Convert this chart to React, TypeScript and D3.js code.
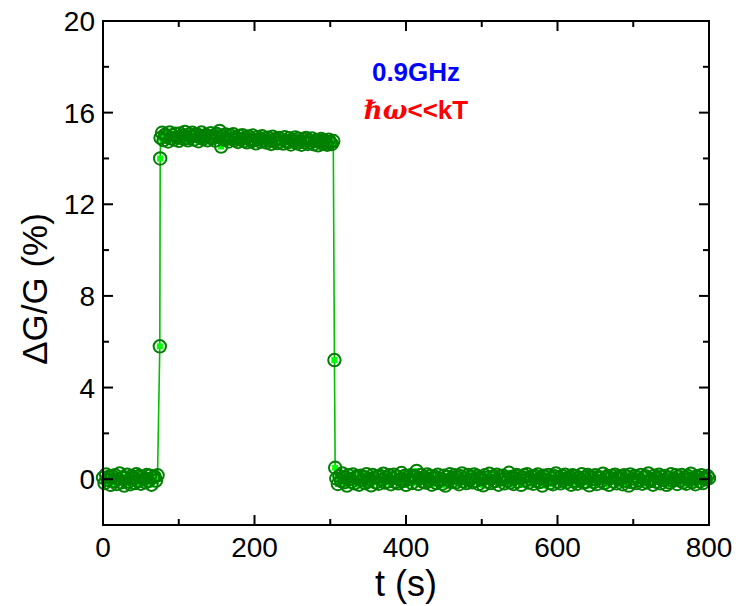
import React from "react";
import * as d3 from "d3";

// ---- data ----
const baseline1Start = 0;
const baseline1Step = 2;
const baseline1Values = [
  0.07, -0.17, 0.21, -0.03, 0.11, -0.25, 0.14, -0.08, 0.17, -0.21, 0.0, 0.25, -0.14,
  0.08, -0.28, 0.06, 0.2, -0.11, -0.22, 0.13, 0.03, -0.17, 0.22, -0.07, 0.14, -0.2,
  0.1, 0.0, -0.14, 0.18, -0.08, 0.15, -0.24, 0.07, 0.11, -0.06, 0.17,
];
const riseTimes = [75, 75.5];
const riseValues = [5.8, 14.0];
const plateauStart = 76;
const plateauStep = 2;
const plateauValues = [
  14.9, 15.12, 14.8, 15.04, 14.95, 14.74, 15.14, 14.88, 15.01, 14.83,
  15.08, 14.92, 14.77, 15.09, 14.99, 14.86, 15.16, 14.89, 14.79, 15.05,
  14.95, 15.12, 14.82, 15.0, 15.06, 14.75, 14.93, 15.14, 14.85, 14.97,
  15.03, 14.79, 14.92, 15.1, 14.88, 14.99, 14.78, 15.07, 14.95, 15.2,
  14.52, 14.96, 14.82, 15.05, 14.88, 14.74, 15.0, 14.85, 15.06, 14.8,
  14.92, 14.72, 14.98, 14.83, 15.02, 14.76, 14.9, 14.7, 14.96, 14.84,
  14.75, 15.0, 14.8, 14.66, 14.93, 14.83, 14.73, 14.97, 14.79, 14.87,
  14.69, 14.91, 14.78, 14.63, 14.95, 14.77, 14.84, 14.67, 14.9, 14.73,
  14.82, 14.65, 14.93, 14.76, 14.7, 14.88, 14.61, 14.81, 14.75, 14.92,
  14.66, 14.86, 14.74, 14.6, 14.84, 14.72, 14.9, 14.63, 14.79, 14.7,
  14.87, 14.62, 14.76, 14.81, 14.57, 14.74, 14.85, 14.65, 14.79, 14.68,
  14.6, 14.82, 14.7, 14.63, 14.76,
];
const fallTimes = [305.5, 306.5];
const fallValues = [5.2, 0.5];
const baseline2Start = 308;
const baseline2Step = 2;
const baseline2Values = [
  0.03, -0.21, 0.14, -0.07, 0.25, -0.14, 0.08, -0.28, 0.17, 0.0,
  -0.11, 0.21, -0.18, 0.06, 0.13, -0.24, 0.15, -0.04, 0.1, -0.17,
  0.22, -0.08, 0.01, -0.27, 0.18, 0.07, -0.14, 0.11, -0.2, 0.14,
  -0.03, 0.24, -0.15, 0.08, -0.1, 0.17, -0.22, 0.04, 0.2, -0.13,
  0.11, -0.18, 0.0, 0.27, -0.07, 0.14, -0.25, 0.1, -0.01, 0.17,
  -0.17, 0.07, 0.13, 0.36, -0.21, 0.03, 0.18, -0.11, 0.08, -0.15,
  0.21, -0.06, 0.14, -0.24, 0.04, 0.11, -0.17, 0.2, -0.08, 0.01,
  -0.2, 0.15, -0.28, 0.1, -0.04, 0.22, -0.13, 0.07, 0.17, -0.14,
  0.06, -0.22, 0.13, 0.25, -0.1, 0.03, -0.17, 0.18, -0.03, 0.1,
  -0.14, 0.21, -0.07, 0.14, -0.21, 0.08, 0.0, -0.27, 0.17, 0.06,
  -0.11, 0.24, -0.17, 0.04, 0.13, -0.08, 0.2, -0.24, 0.11, -0.01,
  0.15, -0.18, 0.07, -0.06, 0.28, -0.14, 0.1, -0.21, 0.03, 0.18,
  -0.1, 0.13, -0.25, 0.08, 0.17, -0.04, 0.22, -0.15, 0.0, 0.11,
  -0.2, 0.14, -0.08, 0.21, -0.13, 0.06, -0.28, 0.15, 0.1, -0.03,
  0.18, -0.17, 0.04, -0.22, 0.13, 0.25, -0.11, 0.07, -0.18, 0.14,
  -0.06, 0.2, -0.14, 0.01, 0.1, -0.24, 0.17, -0.07, 0.13, -0.2,
  0.08, -0.03, 0.22, -0.15, 0.06, -0.11, 0.18, -0.27, 0.11, 0.0,
  -0.13, 0.17, -0.21, 0.1, 0.03, -0.08, 0.24, -0.17, 0.07, 0.14,
  -0.25, 0.04, 0.15, -0.1, 0.2, -0.18, 0.08, -0.01, 0.13, -0.22,
  0.17, -0.07, 0.11, -0.28, 0.21, -0.13, 0.03, 0.14, -0.17, 0.08,
  -0.04, 0.18, -0.2, 0.07, 0.13, -0.14, 0.25, -0.08, 0.0, -0.24,
  0.15, -0.11, 0.06, 0.2, -0.18, 0.1, -0.03, 0.14, -0.25, 0.07,
  -0.15, 0.22, -0.08, 0.03, 0.17, -0.21, 0.11, -0.06, 0.18, -0.14,
  0.08, -0.2, 0.14, -0.01, 0.24, -0.13, 0.04, -0.22, 0.13, 0.06,
  -0.1, 0.17, -0.17, 0.07, 0.0, 0.14, 0.04,
];
const xMajorTicks = [0, 200, 400, 600, 800];
const xMinorTicks = [100, 300, 500, 700];
const yMajorTicks = [0, 4, 8, 12, 16, 20];
const yMinorTicks = [2, 6, 10, 14, 18];
const xTitle = "t (s)";
const yTitle = "\u0394G/G (%)";
const label1 = "0.9GHz";
const label2a = "\u210F\u03C9";
const label2b = "<<kT";

type Pt = { t: number; v: number };
const seg = (start: number, step: number, vals: number[]): Pt[] =>
  vals.map((v, i) => ({ t: start + i * step, v }));
const data: Pt[] = [
  ...seg(baseline1Start, baseline1Step, baseline1Values),
  ...riseTimes.map((t, i) => ({ t, v: riseValues[i] })),
  ...seg(plateauStart, plateauStep, plateauValues),
  ...fallTimes.map((t, i) => ({ t, v: fallValues[i] })),
  ...seg(baseline2Start, baseline2Step, baseline2Values),
];

const W = 736;
const H = 606;
const L = 103, R = 709, T = 21, B = 525;
const font = "'Liberation Sans', Arial, sans-serif";

export default function App() {
  const x = d3.scaleLinear().domain([0, 800]).range([L, R]);
  const y = d3.scaleLinear().domain([-2, 20]).range([B, T]);
  const line = d3.line<Pt>().x((d) => x(d.t)).y((d) => y(d.v));
  const major = 10, minor = 6;
  return (
    <svg width={W} height={H} style={{ position: "absolute", left: 0, top: 0, background: "#fff" }}>
      <rect x={0} y={0} width={W} height={H} fill="#fff" />
      <path d={line(data) || ""} fill="none" stroke="#00c000" strokeWidth={1.6} />
      {data.map((d, i) => (
        <rect key={"s" + i} x={x(d.t) - 3} y={y(d.v) - 3} width={6} height={6} fill="#00ff00" />
      ))}
      {data.map((d, i) => (
        <circle key={"c" + i} cx={x(d.t)} cy={y(d.v)} r={6.2} fill="none" stroke="#008000" strokeWidth={2} />
      ))}
      {/* frame */}
      <rect x={L} y={T} width={R - L} height={B - T} fill="none" stroke="#000" strokeWidth={2} />
      {xMajorTicks.map((t) => (
        <g key={"xm" + t}>
          <line x1={x(t)} x2={x(t)} y1={B} y2={B - major} stroke="#000" strokeWidth={2} />
          <line x1={x(t)} x2={x(t)} y1={T} y2={T + major} stroke="#000" strokeWidth={2} />
          <text x={x(t)} y={557} textAnchor="middle" fontFamily={font} fontSize={28}>{t}</text>
        </g>
      ))}
      {xMinorTicks.map((t) => (
        <g key={"xn" + t}>
          <line x1={x(t)} x2={x(t)} y1={B} y2={B - minor} stroke="#000" strokeWidth={2} />
          <line x1={x(t)} x2={x(t)} y1={T} y2={T + minor} stroke="#000" strokeWidth={2} />
        </g>
      ))}
      {yMajorTicks.map((v) => (
        <g key={"ym" + v}>
          <line x1={L} x2={L + major} y1={y(v)} y2={y(v)} stroke="#000" strokeWidth={2} />
          <line x1={R} x2={R - major} y1={y(v)} y2={y(v)} stroke="#000" strokeWidth={2} />
          <text x={95} y={y(v) + 10} textAnchor="end" fontFamily={font} fontSize={28}>{v}</text>
        </g>
      ))}
      {yMinorTicks.map((v) => (
        <g key={"yn" + v}>
          <line x1={L} x2={L + minor} y1={y(v)} y2={y(v)} stroke="#000" strokeWidth={2} />
          <line x1={R} x2={R - minor} y1={y(v)} y2={y(v)} stroke="#000" strokeWidth={2} />
        </g>
      ))}
      <text x={406} y={596} textAnchor="middle" fontFamily={font} fontSize={36}>{xTitle}</text>
      <text transform={`translate(47,${(T + B) / 2 + 16}) rotate(-90)`} textAnchor="middle" fontFamily={font} fontSize={35}>{yTitle}</text>
      <text x={416} y={81} textAnchor="middle" fontFamily={font} fontSize={26} fontWeight="bold" fill="#0000ff">{label1}</text>
      <text x={416} y={119} textAnchor="middle" fontFamily={font} fontSize={26} fontWeight="bold" fill="#ff0000">
        <tspan fontFamily="'DejaVu Serif', serif" fontStyle="italic">{label2a}</tspan>
        <tspan>{label2b}</tspan>
      </text>
    </svg>
  );
}
